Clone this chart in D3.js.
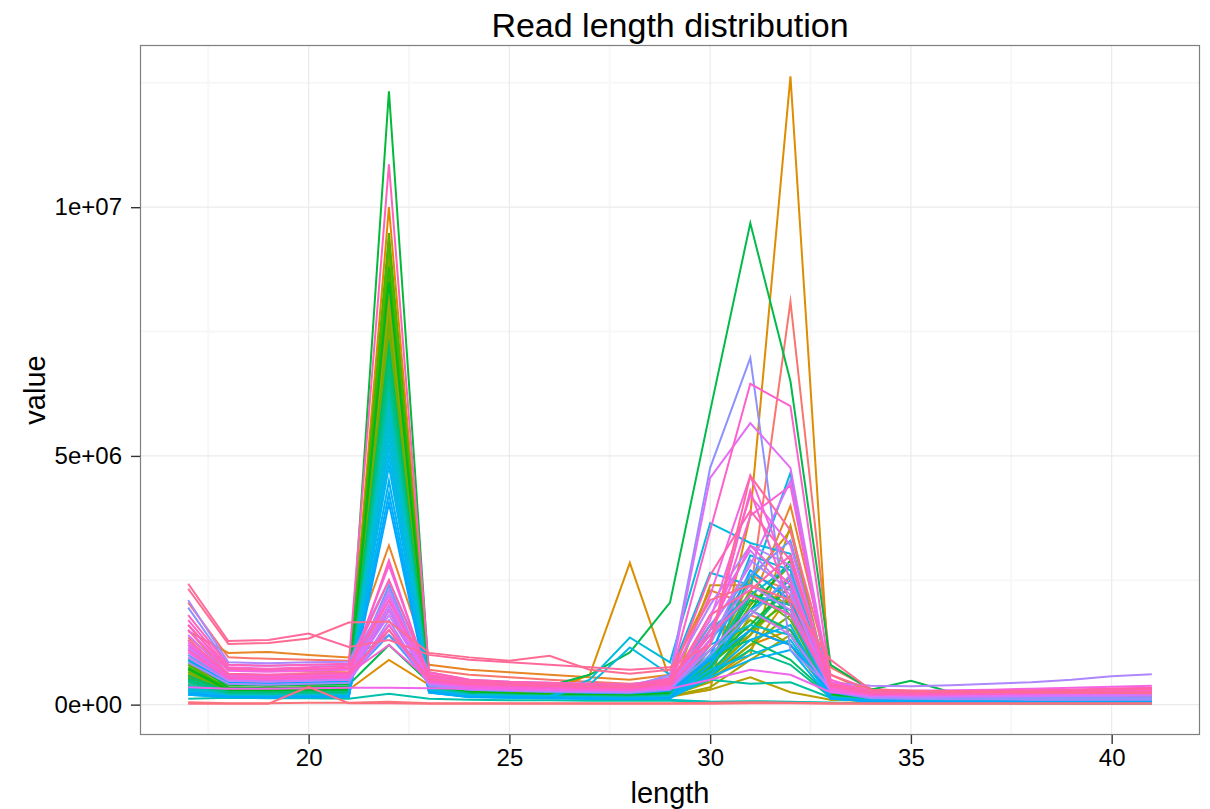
<!DOCTYPE html>
<html>
<head>
<meta charset="utf-8">
<script src="https://cdn.jsdelivr.net/npm/d3@7"></script>
<style>
  body { margin: 0; background: #ffffff; }
  svg { display: block; }
  text { font-family: "Liberation Sans", Arial, Helvetica, sans-serif; fill: #000; }
</style>
</head>
<body>
<svg id="chart" width="1210" height="809"></svg>
<script>
// ---------------- data ----------------
const chartTitle = "Read length distribution";
const xTitle = "length";
const yTitle = "value";
const lengths = [17,18,19,20,21,22,23,24,25,26,27,28,29,30,31,32,33,34,35,36,37,38,39,40,41];
const xTickValues = [20, 25, 30, 35, 40];
const xTickLabels = ["20", "25", "30", "35", "40"];
const yTickValues = [0, 5000000, 10000000];
const yTickLabels = ["0e+00", "5e+06", "1e+07"];
const UNIT = 1e6; // series values below are in millions of reads
// one row per sample (in legend order), values at lengths 17..41
const series = [
[2.05,0.95,0.92,0.90,0.88, 1.40,0.70,0.60,0.55,0.50, 0.46,0.42,0.48,0.85,2.20, 8.10,0.75,0.32,0.27,0.25, 0.23,0.22,0.21,0.20,0.20],
[1.35,0.70,0.68,0.66,0.65, 2.10,0.55,0.45,0.40,0.38, 0.35,0.33,0.40,1.30,2.60, 2.30,0.40,0.20,0.18,0.17, 0.16,0.15,0.15,0.14,0.14],
[0.95,0.52,0.50,0.50,0.48, 1.60,0.45,0.36,0.33,0.30, 0.28,0.27,0.35,1.10,1.80, 1.50,0.35,0.16,0.14,0.13, 0.12,0.11,0.11,0.10,0.10],
[1.50,0.60,0.58,0.58,0.57, 1.90,0.50,0.40,0.37,0.34, 0.32,0.30,0.38,0.90,1.40, 2.60,0.30,0.15,0.13,0.12, 0.11,0.11,0.10,0.10,0.10],
[1.48,1.04,1.06,1.00,0.95, 3.20,0.80,0.70,0.65,0.60, 0.55,0.50,0.60,2.30,2.00, 4.00,0.60,0.25,0.21,0.19, 0.17,0.16,0.15,0.14,0.13],
[0.80,0.40,0.38,0.40,0.42, 10.00,0.55,0.35,0.30,0.28, 0.25,0.25,0.30,0.60,1.20, 1.50,0.25,0.12,0.10,0.09, 0.08,0.08,0.07,0.07,0.07],
[0.60,0.30,0.28,0.30,0.30, 0.90,0.40,0.25,0.20,0.18, 0.16,0.15,0.18,0.30,3.80, 12.63,0.10,0.08,0.07,0.06, 0.06,0.05,0.05,0.05,0.05],
[0.70,0.35,0.33,0.35,0.35, 8.80,0.45,0.30,0.28,0.27, 0.60,2.85,0.50,1.60,1.50, 1.20,0.20,0.10,0.09,0.08, 0.08,0.07,0.07,0.07,0.06],
[0.55,0.28,0.27,0.28,0.29, 9.00,0.50,0.30,0.25,0.22, 0.20,0.20,0.25,0.80,2.50, 3.50,0.22,0.11,0.10,0.09, 0.08,0.08,0.07,0.07,0.07],
[0.50,0.25,0.24,0.25,0.26, 9.30,0.42,0.26,0.22,0.20, 0.18,0.17,0.20,0.50,1.10, 2.20,0.18,0.10,0.09,0.08, 0.07,0.07,0.06,0.06,0.06],
[0.45,0.24,0.23,0.24,0.25, 7.80,0.40,0.25,0.22,0.20, 0.18,0.17,0.20,2.40,2.40, 2.00,0.18,0.10,0.09,0.08, 0.07,0.07,0.06,0.06,0.06],
[0.40,0.20,0.20,0.21,0.22, 8.60,0.35,0.22,0.20,0.18, 0.17,0.16,0.18,0.50,1.00, 3.60,0.20,0.10,0.09,0.08, 0.07,0.07,0.06,0.06,0.06],
[0.35,0.18,0.18,0.19,0.20, 8.20,0.30,0.20,0.18,0.16, 0.15,0.14,0.16,0.30,0.55, 0.25,0.10,0.08,0.07,0.06, 0.06,0.05,0.05,0.05,0.05],
[0.50,0.22,0.21,0.22,0.23, 7.60,0.38,0.22,0.20,0.18, 0.16,0.15,0.18,0.45,1.80, 2.60,0.15,0.09,0.08,0.07, 0.07,0.06,0.06,0.06,0.05],
[0.38,0.17,0.17,0.18,0.19, 8.90,0.33,0.21,0.19,0.17, 0.16,0.15,0.17,0.35,0.90, 1.40,0.14,0.08,0.07,0.07, 0.06,0.06,0.05,0.05,0.05],
[0.65,0.28,0.27,0.28,0.29, 8.00,0.40,0.25,0.22,0.20, 0.19,0.18,0.22,0.65,1.40, 2.60,0.20,0.11,0.10,0.09, 0.08,0.08,0.07,0.07,0.07],
[0.60,0.25,0.24,0.25,0.25, 7.00,0.35,0.22,0.20,0.19, 0.18,0.17,0.20,0.60,1.40, 2.20,0.18,0.10,0.09,0.08, 0.07,0.07,0.06,0.06,0.06],
[0.60,0.27,0.26,0.27,0.28, 7.40,0.38,0.24,0.21,0.19, 0.18,0.17,0.20,0.90,1.70, 1.20,0.18,0.10,0.09,0.08, 0.08,0.07,0.07,0.06,0.06],
[0.55,0.24,0.23,0.24,0.25, 6.80,0.34,0.21,0.20,0.18, 0.17,0.16,0.19,0.55,1.20, 1.80,0.16,0.10,0.09,0.08, 0.07,0.07,0.06,0.06,0.06],
[0.66,0.27,0.26,0.27,0.28, 7.70,0.37,0.24,0.21,0.19, 0.18,0.17,0.21,0.85,2.30, 1.70,0.19,0.10,0.09,0.08, 0.08,0.07,0.07,0.06,0.06],
[0.70,0.30,0.28,0.30,0.30, 9.20,0.40,0.25,0.22,0.20, 0.19,0.18,0.22,0.70,2.00, 2.80,0.20,0.11,0.10,0.09, 0.08,0.08,0.07,0.07,0.07],
[0.80,0.32,0.30,0.32,0.33, 9.48,0.45,0.28,0.25,0.23, 0.21,0.20,0.24,0.80,1.50, 2.10,0.22,0.12,0.10,0.09, 0.09,0.08,0.08,0.07,0.07],
[0.75,0.30,0.29,0.30,0.31, 8.80,0.42,0.26,0.23,0.21, 0.20,0.19,0.23,0.75,2.20, 2.00,0.30,0.13,0.11,0.10, 0.09,0.09,0.08,0.08,0.07],
[0.72,0.29,0.28,0.29,0.30, 8.50,0.41,0.25,0.22,0.20, 0.19,0.18,0.22,1.10,1.90, 2.90,0.21,0.11,0.10,0.09, 0.08,0.08,0.07,0.07,0.07],
[0.90,0.35,0.33,0.35,0.36, 12.33,0.55,0.30,0.28,0.26, 0.24,0.22,0.26,0.90,1.60, 2.40,0.25,0.12,0.11,0.10, 0.09,0.09,0.08,0.08,0.08],
[0.85,0.40,0.38,0.40,0.40, 1.20,0.45,0.35,0.33,0.38, 0.60,1.05,2.05,5.90,9.68, 6.50,0.80,0.30,0.48,0.25, 0.22,0.20,0.18,0.17,0.16],
[0.52,0.24,0.23,0.24,0.25, 7.20,0.34,0.22,0.20,0.18, 0.17,0.16,0.19,0.80,2.10, 1.90,0.16,0.09,0.08,0.08, 0.07,0.07,0.06,0.06,0.06],
[0.58,0.26,0.25,0.26,0.27, 7.10,0.36,0.23,0.20,0.18, 0.17,0.16,0.20,1.00,1.30, 0.90,0.17,0.10,0.09,0.08, 0.07,0.07,0.07,0.06,0.06],
[0.48,0.23,0.22,0.23,0.24, 6.90,0.33,0.21,0.19,0.17, 0.16,0.15,0.18,0.65,1.50, 2.40,0.15,0.09,0.08,0.07, 0.07,0.06,0.06,0.06,0.05],
[0.50,0.25,0.24,0.25,0.26, 6.70,0.35,0.22,0.20,0.18, 0.17,0.16,0.19,0.70,1.90, 1.50,0.16,0.09,0.08,0.08, 0.07,0.07,0.06,0.06,0.06],
[0.45,0.22,0.21,0.22,0.23, 6.50,0.33,0.21,0.19,0.17, 0.16,0.15,0.18,0.60,1.10, 0.80,0.15,0.09,0.08,0.07, 0.07,0.06,0.06,0.06,0.05],
[0.35,0.18,0.18,0.19,0.20, 6.40,0.30,0.19,0.17,0.15, 0.14,0.14,0.16,0.80,2.60, 1.80,0.14,0.08,0.07,0.07, 0.06,0.06,0.05,0.05,0.05],
[0.40,0.20,0.19,0.20,0.21, 6.30,0.32,0.20,0.18,0.16, 0.15,0.14,0.17,0.50,0.42, 0.45,0.14,0.08,0.07,0.07, 0.06,0.06,0.06,0.05,0.05],
[0.12,0.14,0.13,0.13,0.12, 0.22,0.12,0.10,0.09,0.09, 0.08,0.08,0.08,0.06,0.07, 0.06,0.04,0.03,0.03,0.03, 0.03,0.03,0.02,0.02,0.02],
[0.28,0.17,0.16,0.17,0.18, 6.20,0.28,0.18,0.16,0.15, 0.14,0.13,0.15,1.50,2.20, 2.00,0.13,0.07,0.07,0.06, 0.06,0.05,0.05,0.05,0.05],
[0.30,0.17,0.17,0.18,0.19, 5.60,0.28,0.18,0.16,0.15, 0.14,0.13,0.10,0.06,0.05, 0.05,0.04,0.03,0.03,0.03, 0.03,0.02,0.02,0.02,0.02],
[0.38,0.19,0.18,0.19,0.20, 6.00,0.30,0.19,0.17,0.16, 0.15,0.14,0.17,0.90,2.20, 2.80,0.15,0.08,0.07,0.07, 0.06,0.06,0.06,0.05,0.05],
[0.33,0.18,0.17,0.18,0.19, 5.90,0.29,0.18,0.16,0.15, 0.14,0.13,0.16,1.20,1.60, 1.40,0.14,0.08,0.07,0.06, 0.06,0.06,0.05,0.05,0.05],
[0.31,0.17,0.17,0.18,0.19, 5.70,0.28,0.18,0.16,0.15, 0.14,0.13,0.15,0.95,3.00, 2.70,0.13,0.07,0.07,0.06, 0.06,0.05,0.05,0.05,0.05],
[0.32,0.18,0.17,0.18,0.19, 5.40,0.30,0.20,0.18,0.17, 0.50,1.35,0.85,3.65,3.25, 3.03,0.15,0.08,0.07,0.07, 0.06,0.06,0.05,0.05,0.05],
[0.30,0.18,0.17,0.18,0.18, 5.20,0.28,0.18,0.16,0.15, 0.40,1.15,0.60,2.65,2.40, 4.66,0.15,0.08,0.07,0.06, 0.06,0.05,0.05,0.05,0.05],
[0.25,0.16,0.16,0.17,0.18, 5.00,0.26,0.17,0.15,0.14, 0.13,0.12,0.14,0.70,1.00, 1.30,0.13,0.07,0.06,0.06, 0.05,0.05,0.05,0.05,0.04],
[0.22,0.16,0.15,0.16,0.17, 4.80,0.25,0.16,0.15,0.14, 0.13,0.12,0.14,0.60,1.30, 1.60,0.12,0.07,0.06,0.06, 0.05,0.05,0.05,0.04,0.04],
[0.20,0.15,0.15,0.16,0.16, 4.50,0.24,0.16,0.14,0.13, 0.12,0.12,0.13,0.55,0.90, 1.10,0.12,0.07,0.06,0.05, 0.05,0.05,0.04,0.04,0.04],
[0.20,0.15,0.14,0.15,0.16, 4.25,0.24,0.15,0.14,0.13, 0.12,0.11,0.13,0.80,1.90, 2.50,0.12,0.07,0.06,0.05, 0.05,0.05,0.04,0.04,0.04],
[0.24,0.16,0.15,0.16,0.17, 4.05,0.25,0.16,0.15,0.14, 0.13,0.12,0.14,1.00,2.70, 2.10,0.13,0.07,0.06,0.06, 0.05,0.05,0.05,0.04,0.04],
[0.90,0.45,0.43,0.45,0.46, 1.90,0.40,0.30,0.28,0.26, 0.24,0.23,0.28,0.90,1.50, 1.20,0.25,0.12,0.11,0.10, 0.10,0.09,0.09,0.09,0.09],
[1.20,0.55,0.52,0.54,0.55, 1.40,0.45,0.35,0.32,0.30, 0.28,0.26,0.32,1.30,2.20, 1.80,0.28,0.14,0.13,0.12, 0.12,0.11,0.11,0.11,0.11],
[1.00,0.50,0.48,0.50,0.52, 2.40,0.45,0.35,0.32,0.30, 0.28,0.27,0.35,1.60,2.60, 3.30,0.30,0.15,0.13,0.12, 0.12,0.11,0.11,0.11,0.11],
[1.10,0.52,0.50,0.52,0.54, 2.00,0.42,0.33,0.30,0.28, 0.27,0.26,0.32,1.00,1.80, 2.60,0.28,0.14,0.13,0.12, 0.12,0.11,0.11,0.12,0.12],
[1.95,0.80,0.78,0.80,0.80, 2.20,0.60,0.45,0.42,0.40, 0.38,0.36,0.60,4.76,6.97, 1.10,0.35,0.18,0.16,0.15, 0.15,0.14,0.14,0.14,0.14],
[0.85,0.42,0.40,0.42,0.44, 1.70,0.38,0.30,0.28,0.26, 0.25,0.24,0.30,1.20,2.90, 2.30,0.26,0.13,0.12,0.11, 0.11,0.10,0.10,0.10,0.10],
[2.10,0.85,0.83,0.85,0.86, 2.50,0.65,0.50,0.46,0.44, 0.42,0.40,0.55,2.00,3.20, 2.80,0.45,0.38,0.37,0.39, 0.42,0.45,0.50,0.57,0.61],
[1.30,0.60,0.58,0.60,0.62, 2.30,0.50,0.40,0.37,0.35, 0.33,0.32,0.40,1.40,2.40, 1.90,0.32,0.18,0.17,0.17, 0.17,0.17,0.18,0.18,0.19],
[0.95,0.48,0.46,0.48,0.50, 1.50,0.42,0.33,0.30,0.28, 0.27,0.26,0.34,1.10,1.90, 1.40,0.28,0.16,0.16,0.16, 0.17,0.18,0.19,0.20,0.21],
[1.15,0.55,0.53,0.55,0.57, 1.80,0.48,0.38,0.35,0.33, 0.31,0.30,0.38,1.80,3.10, 2.20,0.30,0.18,0.17,0.17, 0.17,0.17,0.18,0.18,0.18],
[1.40,0.62,0.60,0.62,0.64, 2.00,0.50,0.40,0.37,0.35, 0.33,0.32,0.42,1.50,2.80, 4.50,0.35,0.20,0.19,0.19, 0.20,0.21,0.22,0.23,0.24],
[1.60,0.70,0.68,0.70,0.72, 2.20,0.55,0.42,0.40,0.38, 0.36,0.35,0.50,4.56,5.66, 4.76,0.40,0.20,0.19,0.19, 0.19,0.20,0.21,0.22,0.23],
[1.25,0.58,0.56,0.58,0.60, 1.90,0.50,0.40,0.37,0.35, 0.33,0.32,0.42,1.70,4.20, 3.20,0.35,0.22,0.22,0.23, 0.24,0.26,0.28,0.30,0.33],
[0.35,0.32,0.32,0.33,0.34, 0.34,0.33,0.32,0.31,0.30, 0.30,0.30,0.32,0.50,0.70, 0.60,0.25,0.20,0.20,0.21, 0.22,0.24,0.26,0.28,0.30],
[1.50,0.68,0.66,0.68,0.70, 2.80,0.55,0.45,0.42,0.40, 0.38,0.36,0.45,2.20,4.60, 2.50,0.45,0.28,0.28,0.29, 0.30,0.32,0.34,0.36,0.38],
[1.05,0.52,0.50,0.52,0.54, 1.60,0.45,0.36,0.33,0.31, 0.30,0.29,0.36,1.30,3.80, 4.40,0.30,0.20,0.20,0.21, 0.22,0.23,0.24,0.25,0.26],
[1.20,0.60,0.58,0.60,0.62, 1.20,0.50,0.42,0.40,0.38, 0.36,0.35,0.45,1.50,3.20, 2.40,0.38,0.25,0.25,0.26, 0.27,0.28,0.30,0.32,0.34],
[1.70,0.75,0.72,0.75,0.78, 2.10,0.60,0.48,0.44,0.42, 0.40,0.38,0.50,3.50,6.45, 6.00,0.50,0.25,0.24,0.24, 0.25,0.26,0.28,0.30,0.32],
[1.10,0.55,0.53,0.55,0.57, 2.90,0.48,0.40,0.37,0.35, 0.33,0.32,0.40,1.20,4.30, 2.00,0.35,0.22,0.22,0.23, 0.24,0.25,0.26,0.27,0.28],
[1.80,0.80,0.78,0.80,0.82, 10.86,0.65,0.50,0.46,0.44, 0.42,0.40,0.52,1.40,2.20, 1.80,0.40,0.22,0.21,0.21, 0.22,0.23,0.24,0.25,0.26],
[1.60,0.72,0.70,0.72,0.74, 2.50,0.58,0.48,0.44,0.42, 0.40,0.38,0.48,2.60,3.90, 2.90,0.42,0.26,0.26,0.27, 0.28,0.29,0.30,0.32,0.34],
[1.30,0.62,0.60,0.62,0.64, 1.50,0.52,0.43,0.40,0.38, 0.36,0.35,0.42,1.80,2.30, 3.00,0.38,0.24,0.24,0.25, 0.26,0.27,0.28,0.30,0.32],
[2.43,1.28,1.30,1.43,1.16, 1.30,1.00,0.90,0.85,0.80, 0.75,0.70,0.75,1.20,4.60, 3.50,0.60,0.30,0.28,0.27, 0.26,0.25,0.25,0.24,0.24],
[2.33,1.22,1.24,1.33,1.65, 1.67,1.04,0.95,0.88,0.98, 0.70,0.62,0.70,2.10,2.40, 2.10,0.90,0.30,0.28,0.27, 0.26,0.25,0.24,0.24,0.23],
[0.02,0.02,0.02,0.36,0.03, 0.03,0.02,0.02,0.02,0.02, 0.02,0.02,0.02,0.02,0.03, 0.03,0.02,0.02,0.02,0.02, 0.02,0.02,0.02,0.02,0.02],
[0.05,0.03,0.03,0.04,0.04, 0.06,0.03,0.03,0.03,0.03, 0.03,0.03,0.03,0.04,0.05, 0.04,0.03,0.03,0.03,0.03, 0.03,0.03,0.03,0.03,0.03]
];

// ---------------- colours: ggplot2 default hue palette (polar LUV) ----------------
function hclLuv(h, c, l) {
  const hr = h * Math.PI / 180;
  const U = c * Math.cos(hr), V = c * Math.sin(hr);
  const Xn = 95.047, Yn = 100.0, Zn = 108.883;
  const Y = Yn * (l > 7.999592 ? Math.pow((l + 16) / 116, 3) : l / 903.3);
  const den = Xn + 15 * Yn + 3 * Zn;
  const un = 4 * Xn / den, vn = 9 * Yn / den;
  const up = U / (13 * l) + un, vp = V / (13 * l) + vn;
  const X = 9 * Y * up / (4 * vp);
  const Z = -X / 3 - 5 * Y + 3 * Y / vp;
  const x = X / 100, y = Y / 100, z = Z / 100;
  const r = 3.240479 * x - 1.537150 * y - 0.498535 * z;
  const g = -0.969256 * x + 1.875992 * y + 0.041556 * z;
  const b = 0.055648 * x - 0.204043 * y + 1.057311 * z;
  const gam = v => { v = v <= 0.0031308 ? 12.92 * v : 1.055 * Math.pow(v, 1 / 2.4) - 0.055; return Math.round(Math.max(0, Math.min(1, v)) * 255); };
  return d3.rgb(gam(r), gam(g), gam(b)).formatHex();
}
const nS = series.length;
const colors = series.map((_, i) => hclLuv(15 + 360 * i / nS, 100, 65));

// ---------------- layout ----------------
const svg = d3.select("#chart");
const P = { left: 140, right: 1200, top: 45, bottom: 735 };

const xExt = d3.extent(lengths);
const xPad = (xExt[1] - xExt[0]) * 0.05;
const x = d3.scaleLinear().domain([xExt[0] - xPad, xExt[1] + xPad]).range([P.left, P.right]);

const allVals = series.flat().map(v => v * UNIT);
const yExt = d3.extent(allVals);
const yPad = (yExt[1] - yExt[0]) * 0.05;
const y = d3.scaleLinear().domain([yExt[0] - yPad, yExt[1] + yPad]).range([P.bottom, P.top]);

svg.append("rect").attr("x", 0).attr("y", 0).attr("width", 1210).attr("height", 809).attr("fill", "#ffffff");

// minor grid (midpoints between major ticks)
const xStep = xTickValues[1] - xTickValues[0];
const xMinor = [xTickValues[0] - xStep / 2].concat(xTickValues.map(v => v + xStep / 2))
  .filter(v => v > x.domain()[0] && v < x.domain()[1]);
const yStep = yTickValues[1] - yTickValues[0];
const yMinor = yTickValues.map(v => v + yStep / 2).filter(v => v > y.domain()[0] && v < y.domain()[1]);

const grid = svg.append("g");
grid.selectAll(".xminor").data(xMinor).join("line")
  .attr("x1", d => x(d)).attr("x2", d => x(d)).attr("y1", P.top).attr("y2", P.bottom)
  .attr("stroke", "#f7f7f7").attr("stroke-width", 2);
grid.selectAll(".yminor").data(yMinor).join("line")
  .attr("y1", d => y(d)).attr("y2", d => y(d)).attr("x1", P.left).attr("x2", P.right)
  .attr("stroke", "#f7f7f7").attr("stroke-width", 2);
grid.selectAll(".xmajor").data(xTickValues).join("line")
  .attr("x1", d => x(d)).attr("x2", d => x(d)).attr("y1", P.top).attr("y2", P.bottom)
  .attr("stroke", "#ebebeb").attr("stroke-width", 1.2);
grid.selectAll(".ymajor").data(yTickValues).join("line")
  .attr("y1", d => y(d)).attr("y2", d => y(d)).attr("x1", P.left).attr("x2", P.right)
  .attr("stroke", "#ebebeb").attr("stroke-width", 1.2);

// lines
const line = d3.line().x((d, i) => x(lengths[i])).y(d => y(d * UNIT));
svg.append("g").selectAll("path").data(series).join("path")
  .attr("d", line)
  .attr("fill", "none")
  .attr("stroke", (d, i) => colors[i])
  .attr("stroke-width", 2)
  .attr("stroke-linejoin", "miter")
  .attr("stroke-miterlimit", 10);

// panel border
svg.append("rect").attr("x", P.left + 0.5).attr("y", P.top + 0.5)
  .attr("width", P.right - P.left - 1).attr("height", P.bottom - P.top - 1)
  .attr("fill", "none").attr("stroke", "#7f7f7f").attr("stroke-width", 1.2);

// axes
const xAxis = d3.axisBottom(x).tickValues(xTickValues).tickFormat((d, i) => xTickLabels[i]).tickSize(9).tickSizeOuter(0).tickPadding(5);
const gx = svg.append("g").attr("transform", `translate(0,${P.bottom})`).call(xAxis);
gx.select(".domain").remove();
gx.selectAll(".tick line").attr("stroke", "#333").attr("stroke-width", 1.4);
gx.selectAll(".tick text").attr("font-size", 24).attr("fill", "#000").attr("font-family", "Liberation Sans, Arial, sans-serif");

const yAxis = d3.axisLeft(y).tickValues(yTickValues).tickFormat((d, i) => yTickLabels[i]).tickSize(9).tickSizeOuter(0).tickPadding(9);
const gy = svg.append("g").attr("transform", `translate(${P.left},0)`).call(yAxis);
gy.select(".domain").remove();
gy.selectAll(".tick line").attr("stroke", "#333").attr("stroke-width", 1.4);
gy.selectAll(".tick text").attr("font-size", 24).attr("fill", "#000").attr("font-family", "Liberation Sans, Arial, sans-serif");

// titles
svg.append("text").attr("x", (P.left + P.right) / 2).attr("y", 37)
  .attr("text-anchor", "middle").attr("font-size", 34).text(chartTitle);
svg.append("text").attr("x", (P.left + P.right) / 2).attr("y", 803)
  .attr("text-anchor", "middle").attr("font-size", 29).text(xTitle);
svg.append("text").attr("transform", `translate(45,${(P.top + P.bottom) / 2}) rotate(-90)`)
  .attr("text-anchor", "middle").attr("font-size", 29).text(yTitle);
</script>
</body>
</html>
